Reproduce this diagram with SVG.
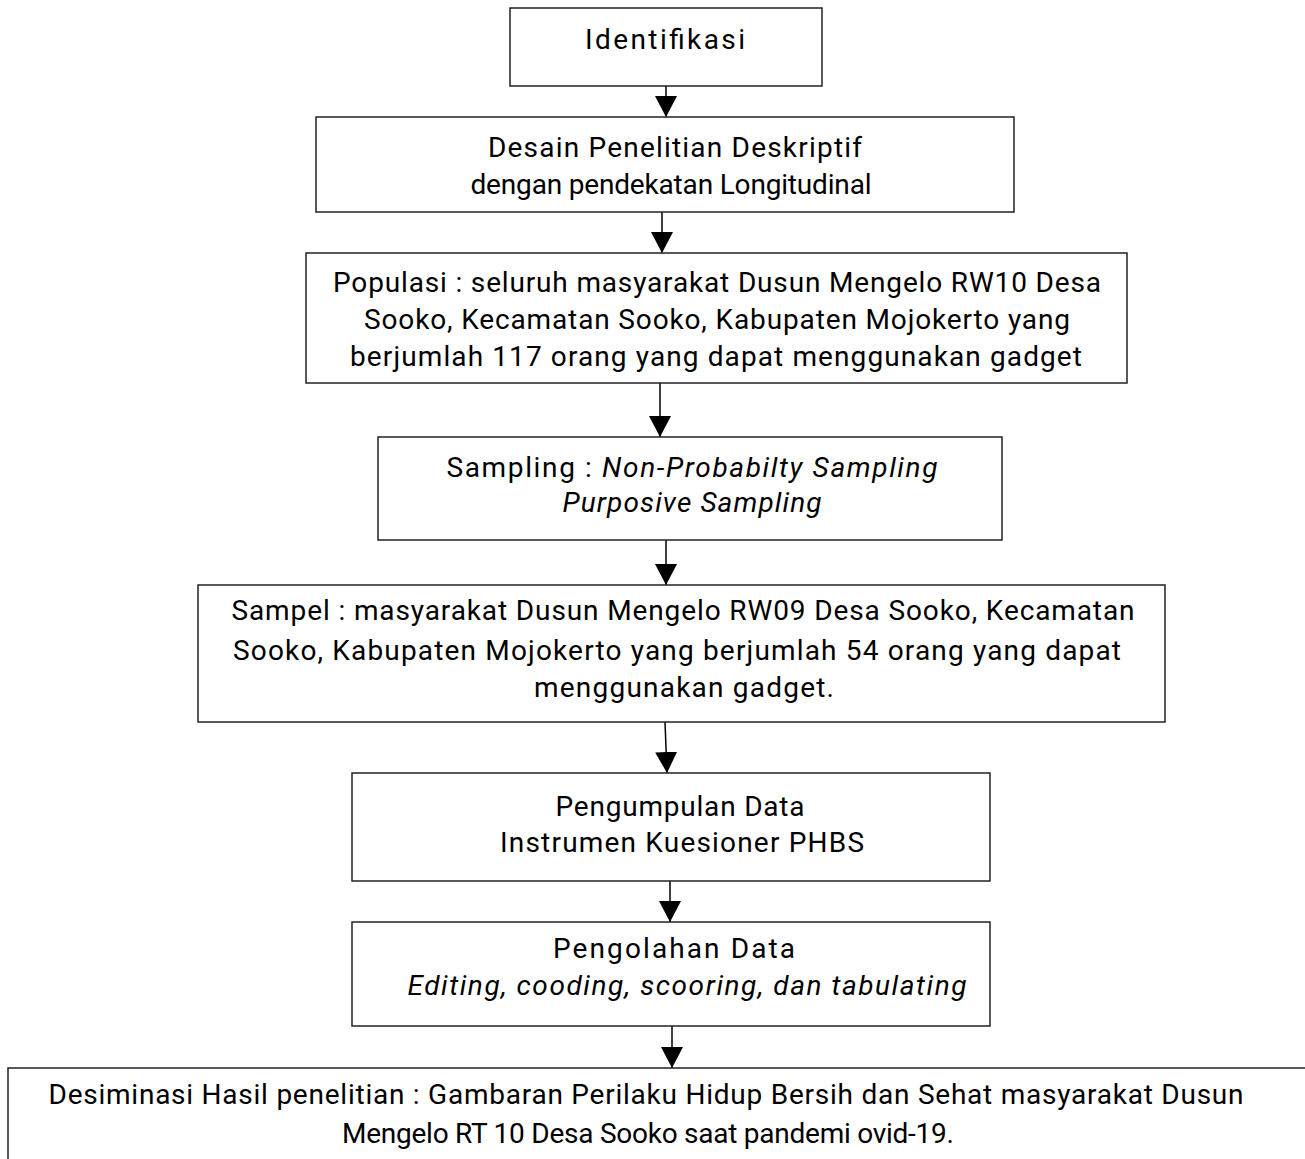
<svg xmlns="http://www.w3.org/2000/svg" width="1305" height="1159" viewBox="0 0 1305 1159">
<defs>
<style>
.box{fill:#fff;stroke:#222;stroke-width:1.5}
.t{font-family:Roboto,"Liberation Sans",sans-serif;font-size:28px;fill:#000;text-anchor:middle}
.i{font-style:italic}
.c{stroke:#000;stroke-width:1.5;fill:none}
</style>
<marker id="ah" markerUnits="userSpaceOnUse" markerWidth="22" markerHeight="22" viewBox="0 0 22 22" refX="21" refY="11" orient="auto">
<path d="M0,0 L21,11 L0,22 Z" fill="#000"/>
</marker>
</defs>
<rect width="1305" height="1159" fill="#fff"/>
<g id="connectors">
<line class="c" x1="666" y1="86" x2="666" y2="117" marker-end="url(#ah)"/>
<line class="c" x1="662" y1="212" x2="662" y2="253" marker-end="url(#ah)"/>
<line class="c" x1="660" y1="383" x2="660" y2="437" marker-end="url(#ah)"/>
<line class="c" x1="666" y1="540" x2="666" y2="585" marker-end="url(#ah)"/>
<line class="c" x1="665" y1="722" x2="667" y2="773" marker-end="url(#ah)"/>
<line class="c" x1="670" y1="881" x2="670" y2="922" marker-end="url(#ah)"/>
<line class="c" x1="672" y1="1026" x2="672" y2="1068" marker-end="url(#ah)"/>
</g>
<g id="identifikasi">
<rect class="box" x="510" y="8" width="312" height="78"/>
<text class="t" x="665" y="49" textLength="160" lengthAdjust="spacing">Identifikasi</text>
</g>
<g id="desain">
<rect class="box" x="316" y="117" width="698" height="95"/>
<text class="t" x="675" y="157" textLength="374" lengthAdjust="spacing">Desain Penelitian Deskriptif</text>
<text class="t" x="671" y="194" textLength="401" lengthAdjust="spacing">dengan pendekatan Longitudinal</text>
</g>
<g id="populasi">
<rect class="box" x="306" y="253" width="821" height="130"/>
<text class="t" x="717" y="292" textLength="768" lengthAdjust="spacing">Populasi : seluruh masyarakat Dusun Mengelo RW10 Desa</text>
<text class="t" x="717" y="329" textLength="706" lengthAdjust="spacing">Sooko, Kecamatan Sooko, Kabupaten Mojokerto yang</text>
<text class="t" x="716" y="366" textLength="732" lengthAdjust="spacing">berjumlah 117 orang yang dapat menggunakan gadget</text>
</g>
<g id="sampling">
<rect class="box" x="378" y="437" width="624" height="103"/>
<text class="t" x="692" y="477" textLength="491" lengthAdjust="spacing">Sampling : <tspan class="i">Non-Probabilty Sampling</tspan></text>
<text class="t i" x="692" y="512" textLength="259" lengthAdjust="spacing">Purposive Sampling</text>
</g>
<g id="sampel">
<rect class="box" x="198" y="585" width="967" height="137"/>
<text class="t" x="683" y="620" textLength="903" lengthAdjust="spacing">Sampel : masyarakat Dusun Mengelo RW09 Desa Sooko, Kecamatan</text>
<text class="t" x="677" y="660" textLength="888" lengthAdjust="spacing">Sooko, Kabupaten Mojokerto yang berjumlah 54 orang yang dapat</text>
<text class="t" x="684" y="697" textLength="300" lengthAdjust="spacing">menggunakan gadget.</text>
</g>
<g id="pengumpulan">
<rect class="box" x="352" y="773" width="638" height="108"/>
<text class="t" x="680" y="816" textLength="249" lengthAdjust="spacing">Pengumpulan Data</text>
<text class="t" x="682" y="852" textLength="364" lengthAdjust="spacing">Instrumen Kuesioner PHBS</text>
</g>
<g id="pengolahan">
<rect class="box" x="352" y="922" width="638" height="104"/>
<text class="t" x="674" y="958" textLength="242" lengthAdjust="spacing">Pengolahan Data</text>
<text class="t i" x="687" y="995" textLength="559" lengthAdjust="spacing">Editing, cooding, scooring, dan tabulating</text>
</g>
<g id="desiminasi">
<rect class="box" x="8" y="1068" width="1310" height="100"/>
<text class="t" x="646" y="1104" textLength="1195" lengthAdjust="spacing">Desiminasi Hasil penelitian : Gambaran Perilaku Hidup Bersih dan Sehat masyarakat Dusun</text>
<text class="t" x="648" y="1143" textLength="612" lengthAdjust="spacing">Mengelo RT 10 Desa Sooko saat pandemi ovid-19.</text>
</g>
</svg>
